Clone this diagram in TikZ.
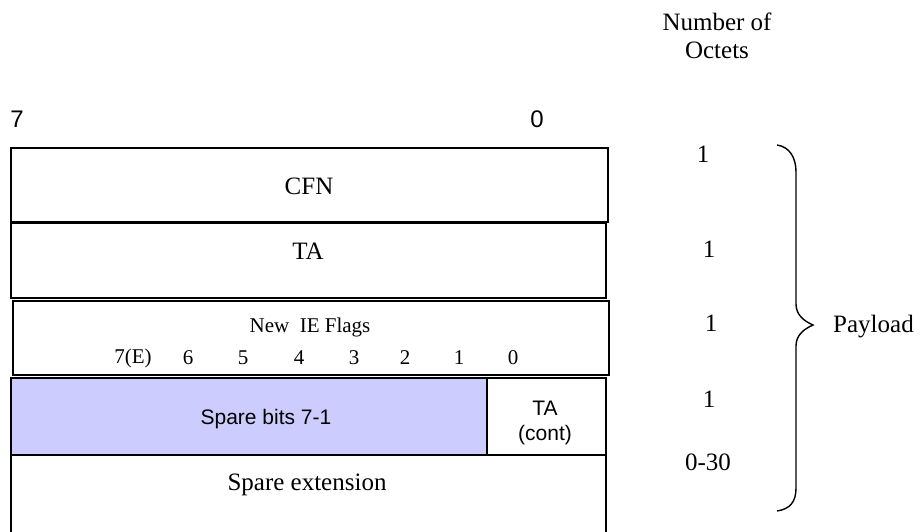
\documentclass[tikz,border=0pt]{standalone}
\usepackage{fontspec}
\setmainfont{Liberation Serif}
\setsansfont{Liberation Sans}
\definecolor{lavender}{HTML}{CCCCFF}
\begin{document}
\begin{tikzpicture}[x=1pt,y=-1pt,
  cell/.style={draw, line width=1.8pt, inner sep=0pt, anchor=north west},
  big/.style={font=\fontsize{25}{28.5}\selectfont, inner sep=0pt},
  mid/.style={font=\fontsize{21}{24}\selectfont, inner sep=0pt},
  sans/.style={font=\sffamily\fontsize{21}{24}\selectfont, inner sep=0pt},
  bitno/.style={font=\sffamily\fontsize{24}{27}\selectfont, inner sep=0pt}]
\useasboundingbox (0,0) rectangle (920,531);
% bit numbers
\node[bitno] (b7) at (17,119) {7};
\node[bitno] (b0) at (537,119) {0};
% rows
\node[cell, minimum width=597pt, minimum height=74pt] (cfn) at (10,147) {};
\node[cell, minimum width=595pt, minimum height=75pt] (ta) at (10,222) {};
\node[cell, minimum width=596pt, minimum height=74pt] (ie) at (12,300) {};
\node[cell, fill=lavender, minimum width=476pt, minimum height=77pt] (spare) at (10,377) {};
\node[cell, minimum width=119pt, minimum height=77pt] (tacont) at (486,377) {};
\node[cell, minimum width=595pt, minimum height=90pt] (ext) at (10,454) {};
% texts
\node[big] (tcfn) at (309,186) {CFN};
\node[big] (tta) at (308,251) {TA};
\node[mid] (tie) at (310,327) {New\ \ IE Flags};
\node[mid] (n7) at (133,358) {7(E)};
\node[mid] (n6) at (188,358) {6};
\node[mid] (n5) at (243,358) {5};
\node[mid] (n4) at (299,358) {4};
\node[mid] (n3) at (354,358) {3};
\node[mid] (n2) at (405,358) {2};
\node[mid] (n1) at (459,358) {1};
\node[mid] (n0) at (513,358) {0};
\node[sans] (tspare) at (266,419) {Spare bits 7-1};
\node[sans] (ttac1) at (545,408) {TA};
\node[sans] (ttac2) at (545,435) {(cont)};
\node[big] (text) at (307,485) {Spare extension};
% octet counts
\node[big, align=center] (hdr) at (717,36) {Number of\\Octets};
\node[big] (o1) at (703,154) {1};
\node[big] (o2) at (709,249) {1};
\node[big] (o3) at (711,323) {1};
\node[big] (o4) at (709,399) {1};
\node[big] (o5) at (708,462) {0-30};
% brace
\coordinate (tip) at (813,325);
\draw[line width=1.4pt] (777,145) .. controls (790,147) and (796,158) .. (796,172)
  -- (796,304) .. controls (796,315) and (804,321) .. (tip)
  .. controls (804,329) and (796,335) .. (796,346)
  -- (796,488) .. controls (796,502) and (790,509) .. (777,511);
\node[big, anchor=west] (pl) at (833,327) {Payload};
\end{tikzpicture}
\end{document}
